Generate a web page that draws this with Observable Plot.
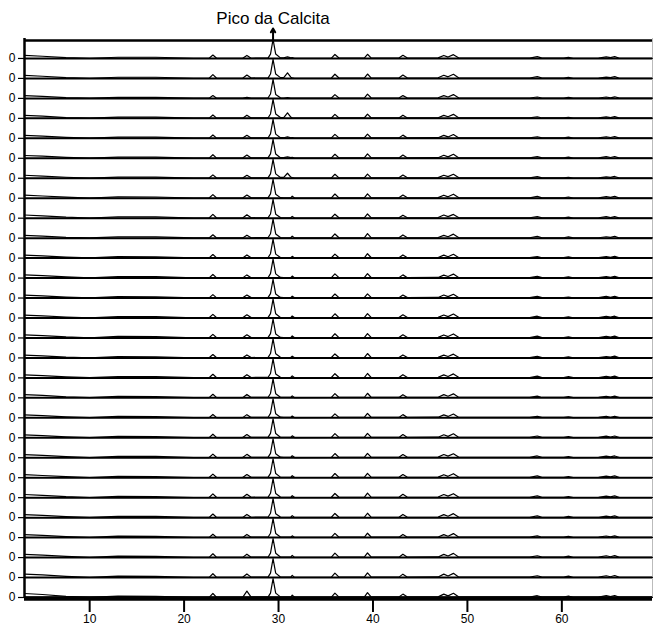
<!DOCTYPE html>
<html>
<head>
<meta charset="utf-8">
<script src="https://cdn.jsdelivr.net/npm/d3@7"></script>
<script src="https://cdn.jsdelivr.net/npm/@observablehq/plot@0.6"></script>
<style>
  body { margin: 0; background: #fff; }
  #chart svg { display: block; }
</style>
</head>
<body>
<div id="chart"></div>
<script>
// 2θ positions (degrees) of the pattern vertices
const twoTheta = [3.1, 5, 7.5, 10, 13, 17, 21,
  22.65, 23.05, 23.45,
  26.2, 26.65, 27.1,
  28.9, 29.15, 29.42, 29.7, 30.2,
  30.55, 30.95, 31.3, 31.45, 31.7,
  35.6, 35.97, 36.4,
  39.1, 39.42, 39.8,
  42.75, 43.17, 43.65,
  46.9, 47.5, 47.95, 48.52, 49.1,
  56.6, 57.4, 57.9,
  60.2, 60.7, 61.2,
  63.9, 64.7, 65.15, 65.6, 66.1,
  69.6];

// sample ids, top to bottom
const sampleIds = [1, 2, 3, 4, 5, 6, 7, 8, 9, 10, 11, 12, 13, 14,
  15, 16, 17, 18, 19, 20, 21, 22, 23, 24, 25, 26, 27, 28];

// relative intensity (%) of each sample at the vertices above
const intensity = [
  [15,11,4,1,6,6,1, 1,17,1, 1,15,1, 3,22,96,22,3, 3,8,3,4,1, 2,20,2, 3,21,3, 2,16,2, 3,15,7,19,2, 2,9,2, 2,5,1, 2,8,4,9,1, 1],
  [15,11,4,1,6,6,1, 1,19,1, 1,17,2, 3,22,95,22,4, 4,28,6,3,1, 2,21,2, 3,22,3, 2,17,2, 3,16,8,21,2, 2,9,2, 2,5,1, 2,7,4,9,1, 1],
  [14,10,4,1,5,5,1, 1,14,1, 1,5,1, 3,22,95,20,3, 2,4,2,2,1, 2,19,2, 3,21,3, 2,14,2, 3,14,7,19,2, 2,7,2, 2,5,1, 2,7,3,8,1, 1],
  [15,11,4,1,6,6,1, 1,17,1, 1,16,2, 3,22,95,22,4, 4,28,6,3,1, 2,20,2, 3,21,3, 2,16,2, 3,15,8,20,2, 2,8,2, 2,5,1, 2,7,4,9,1, 1],
  [15,11,5,1,6,6,1, 1,17,1, 1,15,2, 3,22,95,21,3, 3,7,3,4,1, 2,20,2, 3,21,3, 2,16,2, 3,15,7,19,2, 2,8,2, 2,6,1, 2,8,4,9,1, 1],
  [14,11,5,1,6,6,1, 1,18,1, 1,16,2, 3,22,95,21,3, 3,7,3,5,1, 2,20,2, 3,22,3, 2,16,2, 3,15,7,20,2, 2,8,2, 2,6,1, 2,8,4,9,1, 1],
  [15,11,5,1,6,6,1, 1,17,1, 1,15,2, 3,22,95,22,4, 4,25,6,3,1, 2,20,2, 3,21,3, 2,16,2, 3,15,8,20,2, 2,8,2, 2,5,1, 2,7,4,9,1, 1],
  [15,11,5,1,7,6,1, 1,18,1, 1,16,2, 3,22,95,20,3, 2,2,2,10,1, 2,21,2, 3,22,3, 2,16,2, 3,15,7,20,2, 2,9,2, 2,6,1, 2,8,4,9,1, 1],
  [16,12,5,1,7,7,1, 1,19,1, 1,17,2, 3,21,94,20,3, 2,2,2,9,1, 2,20,2, 3,21,3, 2,15,2, 3,16,8,19,2, 2,8,2, 2,5,1, 2,8,3,8,1, 1],
  [14,10,4,1,6,6,1, 1,17,1, 1,15,2, 3,22,95,21,3, 2,2,2,10,1, 2,21,2, 3,23,3, 2,16,2, 3,14,7,20,2, 2,9,2, 2,6,1, 2,7,4,9,1, 1],
  [15,11,5,1,7,6,1, 1,18,1, 1,16,2, 3,22,95,20,3, 2,2,2,9,1, 2,20,2, 3,22,3, 2,16,2, 3,15,7,19,2, 2,8,2, 2,6,1, 2,8,4,9,1, 1],
  [16,12,6,1,7,7,1, 1,18,1, 1,16,2, 3,22,95,21,3, 2,2,2,10,1, 2,21,2, 3,22,3, 2,16,2, 3,15,8,20,2, 2,9,2, 2,6,1, 2,8,4,9,1, 1],
  [15,11,5,1,7,6,1, 1,17,1, 1,15,2, 3,22,94,20,3, 2,2,2,9,1, 2,20,2, 3,21,3, 2,15,2, 3,15,7,19,2, 2,8,2, 2,5,1, 2,8,3,8,1, 1],
  [14,11,5,1,7,7,1, 1,18,1, 1,16,2, 3,22,95,21,3, 2,2,2,10,1, 2,21,2, 3,22,3, 2,16,2, 3,15,7,20,2, 2,9,2, 2,6,1, 2,8,4,9,1, 1],
  [15,12,5,1,8,7,1, 1,18,1, 1,16,2, 3,22,95,20,3, 2,2,2,10,1, 2,21,2, 3,22,3, 2,16,2, 3,15,7,20,2, 2,9,2, 2,6,1, 2,8,4,9,1, 1],
  [14,10,4,1,7,6,1, 1,17,1, 1,15,2, 3,22,95,21,3, 2,2,2,9,1, 2,20,2, 3,22,3, 2,15,2, 3,14,7,19,2, 2,8,2, 2,6,1, 2,7,4,9,1, 1],
  [15,11,5,1,7,6,1, 1,18,1, 1,16,2, 3,22,95,20,3, 2,2,2,10,1, 2,21,2, 3,22,3, 2,16,2, 3,15,7,20,2, 2,9,2, 2,6,1, 2,8,4,9,1, 1],
  [16,12,5,1,7,6,1, 1,18,1, 1,17,2, 3,22,95,21,3, 2,2,2,10,1, 2,21,2, 3,23,3, 2,16,2, 3,16,8,20,2, 2,9,2, 2,6,1, 2,8,4,9,1, 1],
  [15,11,5,1,7,6,1, 1,17,1, 1,16,2, 3,22,95,20,3, 2,2,2,9,1, 2,20,2, 3,22,3, 2,16,2, 3,15,7,19,2, 2,8,2, 2,5,1, 2,8,3,8,1, 1],
  [15,11,5,1,7,6,1, 1,18,1, 1,16,2, 3,22,95,21,3, 2,2,2,10,1, 2,21,2, 3,22,3, 2,16,2, 3,15,7,20,2, 2,9,2, 2,6,1, 2,8,4,9,1, 1],
  [16,12,6,1,7,7,1, 1,18,1, 1,17,2, 3,22,95,20,3, 2,2,2,10,1, 2,21,2, 3,22,3, 2,16,2, 3,16,8,20,2, 2,9,2, 2,6,1, 2,8,4,9,1, 1],
  [15,11,5,1,7,6,1, 1,18,1, 1,16,2, 3,22,95,21,3, 2,2,2,10,1, 2,21,2, 3,22,3, 2,16,2, 3,15,7,20,2, 2,9,2, 2,6,1, 2,8,4,9,1, 1],
  [16,12,5,1,7,6,1, 1,19,1, 1,17,2, 3,22,95,21,3, 2,2,2,10,1, 2,21,2, 3,23,3, 2,17,2, 3,16,8,20,2, 2,9,2, 2,6,1, 2,8,4,9,1, 1],
  [15,11,5,1,7,6,1, 1,18,1, 1,16,2, 3,22,95,20,3, 2,2,2,10,1, 2,21,2, 3,22,3, 2,16,2, 3,15,7,20,2, 2,9,2, 2,6,1, 2,8,4,9,1, 1],
  [15,11,5,1,7,6,1, 1,17,1, 1,16,2, 3,22,95,21,3, 2,2,2,9,1, 2,21,2, 3,22,3, 2,16,2, 3,15,7,20,2, 2,9,2, 2,6,1, 2,8,4,9,1, 1],
  [16,12,6,1,7,6,1, 1,19,1, 1,17,2, 3,22,95,22,3, 2,2,2,11,1, 2,22,2, 3,23,3, 2,17,2, 3,16,8,21,2, 2,9,2, 2,7,1, 2,9,4,10,1, 1],
  [17,13,6,1,7,6,1, 1,19,1, 1,18,2, 3,22,95,22,3, 2,2,2,11,1, 2,22,2, 3,23,3, 2,17,2, 3,17,8,21,2, 2,9,2, 2,7,1, 2,9,4,10,1, 1],
  [20,15,6,1,7,6,1, 1,20,1, 1,32,2, 3,22,95,22,3, 2,2,2,12,1, 2,22,2, 3,24,3, 2,17,2, 3,17,8,21,2, 2,9,2, 2,7,1, 2,9,4,10,1, 1]
];

const xDomain = [3.1, 69.6];
const xTicks = [10, 20, 30, 40, 50, 60];
const yTicks = [0];
const calcitePeak = 29.42;
const titleText = "Pico da Calcita";

const table = [];
sampleIds.forEach((s, i) => {
  twoTheta.forEach((t, j) => table.push({sample: s, twoTheta: t, intensity: intensity[i][j]}));
});

const first = sampleIds[0];
const last = sampleIds[sampleIds.length - 1];

const chart = Plot.plot({
  width: 654,
  height: 630,
  marginTop: 38,
  marginBottom: 33,
  marginLeft: 24,
  marginRight: 2,
  style: {fontFamily: "'Liberation Sans', Arial, sans-serif", fontSize: "12px", background: "#fff", color: "#000"},
  x: {domain: xDomain, label: null},
  y: {domain: [0, 100], label: null},
  fy: {domain: sampleIds, padding: 0, round: false, axis: null, label: null},
  marks: [
    Plot.axisX({ticks: xTicks, tickSize: 15, tickPadding: 2, strokeWidth: 2, fontSize: 12, label: null}),
    Plot.axisY({ticks: yTicks, tickSize: 6, tickPadding: 3, strokeWidth: 1.2, fontSize: 12, label: null}),
    Plot.ruleX(sampleIds, {fy: d => d, x: () => xDomain[1], stroke: "#bbb", strokeWidth: 1}),
    Plot.ruleY(sampleIds, {fy: d => d, y: () => 0, stroke: "#000", strokeWidth: 2}),
    Plot.line(table, {x: "twoTheta", y: "intensity", fy: "sample", z: "sample", stroke: "#000", strokeWidth: 1.2}),
    Plot.ruleY([last], {fy: d => d, y: () => 0, stroke: "#000", strokeWidth: 4.5, dy: 1}),
    Plot.ruleX(sampleIds, {fy: d => d, x: () => xDomain[0], stroke: "#000", strokeWidth: 2.5}),
    Plot.ruleY([first], {fy: d => d, y: () => 90, stroke: "#000", strokeWidth: 2.5}),
    Plot.arrow([first], {fy: d => d, x1: () => calcitePeak, x2: () => calcitePeak, y1: () => 85, y2: () => 150,
      stroke: "#000", strokeWidth: 2, headLength: 8, bend: 0}),
    Plot.text([first], {fy: d => d, x: () => calcitePeak, y: () => 200,
      text: () => titleText, fontSize: 17, fill: "#000"})
  ]
});
document.getElementById("chart").appendChild(chart);
</script>
</body>
</html>
